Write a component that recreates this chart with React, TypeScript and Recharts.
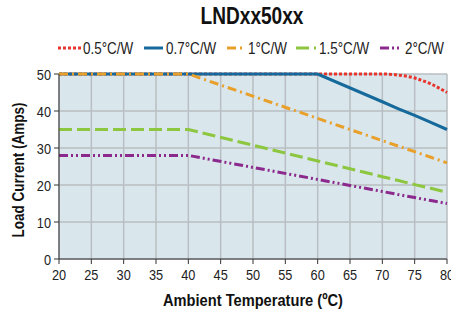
import React from 'react';
import { LineChart, Line, XAxis, YAxis, CartesianGrid } from 'recharts';

const FONT = "'Liberation Sans', Arial, sans-serif";
const SX = 0.85; // the original uses a condensed face

// ambient temperature breakpoints (°C)
const temps = [20, 40, 60, 70, 72.5, 75, 77.5, 80];
// load current (A) per thermal resistance
const r05 = [50, 50, 50, 50, 49.7, 48.9, 47.3, 45];
const r07 = [50, 50, 50, 42.5, 40.6, 38.8, 36.9, 35];
const r1 = [50, 50, 38, 32, 30.5, 29, 27.5, 26];
const r15 = [35, 35, 26.5, 22.25, 21.2, 20.1, 19.1, 18];
const r2 = [28, 28, 21.5, 18.25, 17.4, 16.6, 15.8, 15];

const xTicks = [20, 25, 30, 35, 40, 45, 50, 55, 60, 65, 70, 75, 80];
const yTicks = [0, 10, 20, 30, 40, 50];

const series = [
  { key: 'r05', name: '0.5°C/W', color: '#e8342c', dash: '3 2', type: 'monotone' },
  { key: 'r07', name: '0.7°C/W', color: '#166a9b', dash: undefined, type: 'linear' },
  { key: 'r1', name: '1°C/W', color: '#e9a02a', dash: '9 4 2 4', type: 'linear' },
  { key: 'r15', name: '1.5°C/W', color: '#8dc63f', dash: '13 5', type: 'linear' },
  { key: 'r2', name: '2°C/W', color: '#8b2a8c', dash: '9 3 2 3 2 3', type: 'linear' },
];

const data = temps.map((t, i) => ({
  t,
  r05: r05[i],
  r07: r07[i],
  r1: r1[i],
  r15: r15[i],
  r2: r2[i],
}));

// legend layout: line start, line end, text start
const legendPos = [
  [58, 81, 83],
  [144, 163, 166],
  [227, 246, 248],
  [296, 316, 319],
  [380, 402, 405],
];

const XTick = (props: any) => {
  const { x, y, payload } = props;
  return (
    <text transform={`translate(${x},${y + 14}) scale(${SX},1)`} textAnchor="middle" fontSize={15} fill="#222">
      {payload.value}
    </text>
  );
};

const YTick = (props: any) => {
  const { x, y, payload } = props;
  return (
    <text transform={`translate(${x - 1},${y + 5.5}) scale(${SX},1)`} textAnchor="end" fontSize={15} fill="#222">
      {payload.value}
    </text>
  );
};

export default function App() {
  return (
    <div style={{ position: 'absolute', left: 0, top: 0, width: 451, height: 316, fontFamily: FONT }}>
      <LineChart width={451} height={316} data={data} margin={{ top: 74, right: 4, bottom: 0, left: 0 }}>
        <CartesianGrid stroke="#b9bec2" strokeWidth={1.5} fill="#d9e6ec" horizontalValues={yTicks} verticalValues={xTicks} />
        <XAxis
          dataKey="t"
          type="number"
          domain={[20, 80]}
          ticks={xTicks}
          interval={0}
          height={57}
          stroke="#333"
          tickSize={5}
          tick={<XTick />}
        />
        <YAxis
          type="number"
          domain={[0, 50]}
          ticks={yTicks}
          width={59}
          stroke="#333"
          tickSize={5}
          tick={<YTick />}
        />
        {series.map((s) => (
          <Line
            key={s.key}
            dataKey={s.key}
            type={s.type as any}
            stroke={s.color}
            strokeWidth={3}
            strokeDasharray={s.dash}
            dot={false}
            isAnimationActive={false}
          />
        ))}
      </LineChart>
      <svg width={451} height={316} style={{ position: 'absolute', left: 0, top: 0, pointerEvents: 'none' }}>
        <text x={252} y={24} textAnchor="middle" fontSize={24} fontWeight="bold" fill="#111" textLength={103} lengthAdjust="spacingAndGlyphs">
          LNDxx50xx
        </text>
        {series.map((s, i) => (
          <g key={s.key}>
            <line x1={legendPos[i][0]} y1={48} x2={legendPos[i][1]} y2={48} stroke={s.color} strokeWidth={3} strokeDasharray={s.dash} />
            <text transform={`translate(${legendPos[i][2]},54) scale(0.84,1)`} fontSize={16} fill="#222">
              {s.name}
            </text>
          </g>
        ))}
        <text x={253} y={306} textAnchor="middle" fontSize={17} fontWeight="bold" fill="#111" textLength={180} lengthAdjust="spacingAndGlyphs">
          Ambient Temperature (ºC)
        </text>
        <text x={24} y={170} transform="rotate(-90 24 170)" textAnchor="middle" fontSize={17} fontWeight="bold" fill="#111" textLength={135} lengthAdjust="spacingAndGlyphs">
          Load Current (Amps)
        </text>
      </svg>
    </div>
  );
}
